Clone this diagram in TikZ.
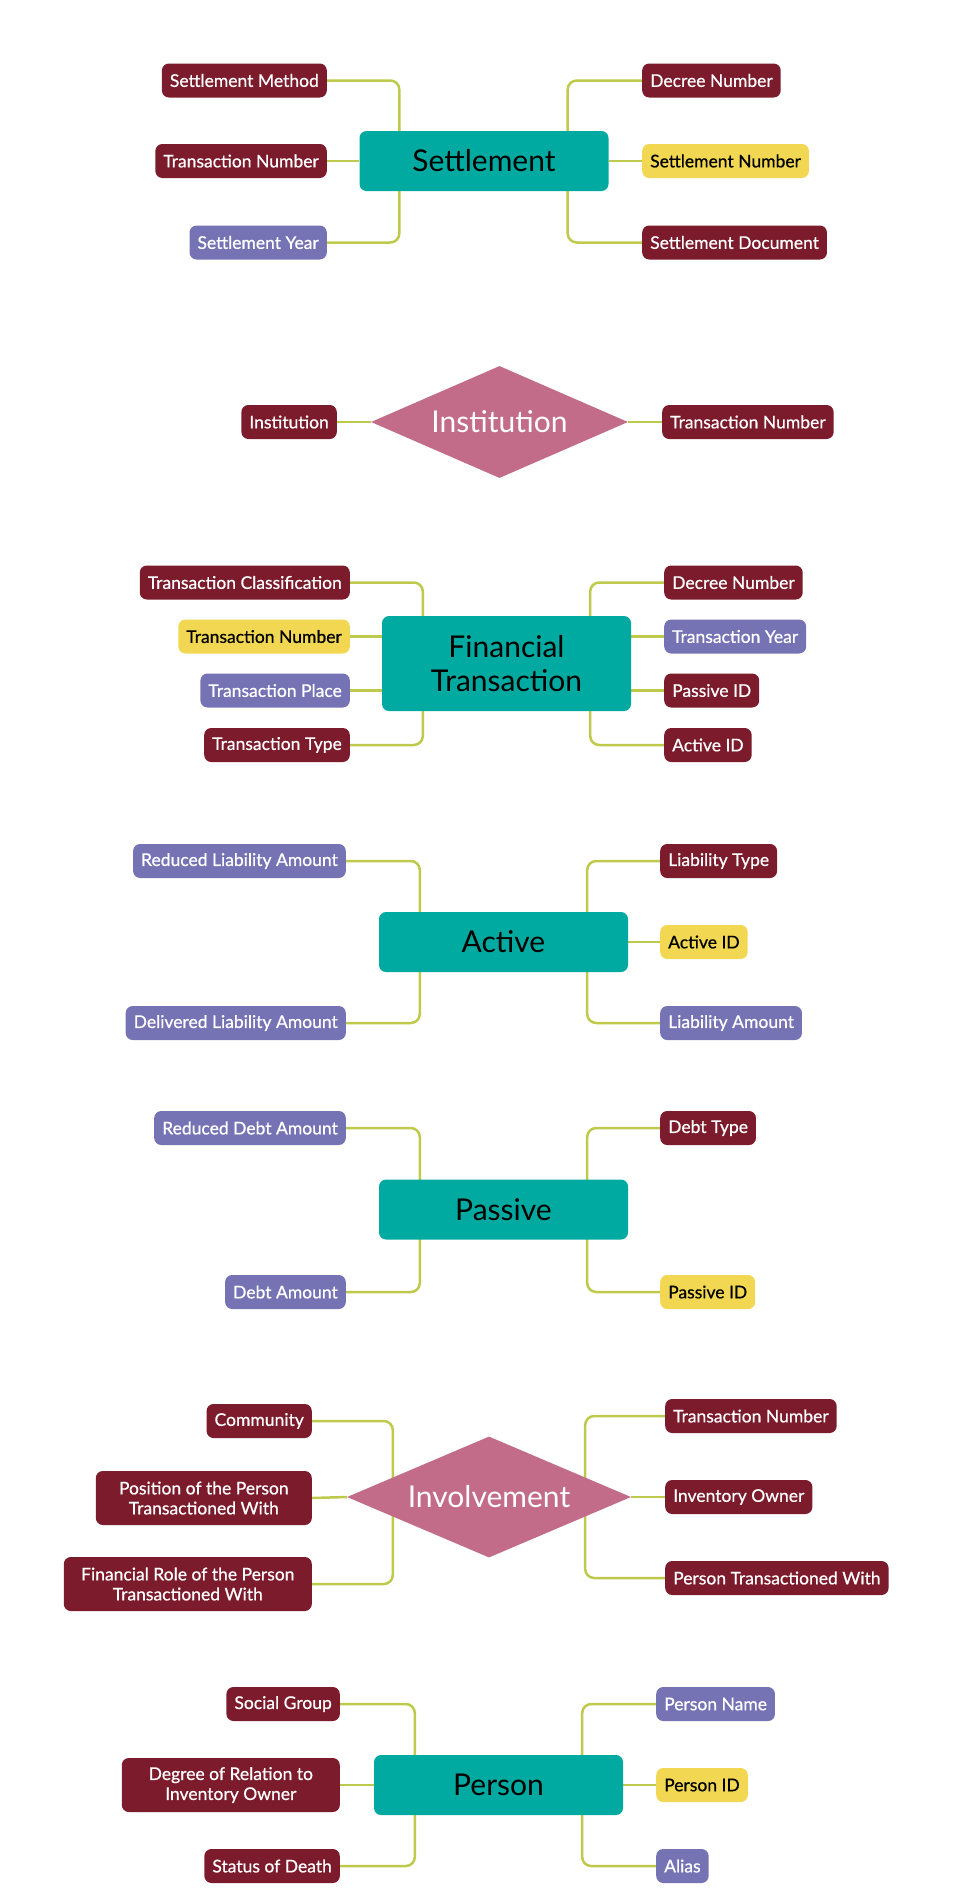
\documentclass[tikz,border=0pt]{standalone}
\usepackage{fontspec}
\setmainfont{Lato}
\newfontfamily\attrfont{Lato}[FakeBold=0.6]
\usetikzlibrary{shapes.geometric, backgrounds}

\definecolor{attrred}{RGB}{123,27,43}
\definecolor{attrviolet}{RGB}{118,115,181}
\definecolor{attrgold}{RGB}{242,216,82}
\definecolor{entityteal}{RGB}{0,170,160}
\definecolor{relpink}{RGB}{194,108,138}
\definecolor{linklime}{RGB}{190,202,75}

\tikzset{
    attr/.style={rounded corners=7pt, minimum height=34pt, inner xsep=8pt, inner ysep=0pt,
        align=center, font=\attrfont\fontsize{17.5}{20}\selectfont},
    redattr/.style={attr, fill=attrred, text=white},
    violetattr/.style={attr, fill=attrviolet, text=white},
    goldattr/.style={attr, fill=attrgold, text=black},
    entity/.style={rounded corners=7pt, fill=entityteal, minimum width=249pt, minimum height=60pt,
        align=center, font=\fontsize{30}{34}\selectfont},
    relation/.style={diamond, fill=relpink, text=white, inner sep=0pt, aspect=2.3,
        font=\fontsize{30}{34}\selectfont},
    link/.style={draw=linklime, line width=2.5pt, rounded corners=9pt}
}

\begin{document}
\begin{tikzpicture}[x=1pt, y=-1pt]
    \useasboundingbox (0,0) rectangle (953,1896);

    % Settlement
    \node[entity] (set) at (484, 161) {Settlement};
    \node[redattr, anchor=east] (setMethod) at (327, 80.5) {Settlement Method};
    \node[redattr, anchor=east] (setTrans) at (327, 161) {Transaction Number};
    \node[violetattr, anchor=east] (setYear) at (327, 242.5) {Settlement Year};
    \node[redattr, anchor=west] (setDecree) at (642, 80.5) {Decree Number};
    \node[goldattr, anchor=west] (setNum) at (642, 161) {Settlement Number};
    \node[redattr, anchor=west] (setDoc) at (642, 242.5) {Settlement Document};

    % Institution
    \node[relation, minimum width=257pt, minimum height=112pt] (inst) at (499.5, 422) {Institution};
    \node[redattr, anchor=east] (instName) at (337, 422) {Institution};
    \node[redattr, anchor=west] (instTrans) at (662, 422) {Transaction Number};

    % Financial Transaction
    \node[entity, minimum height=95pt] (fin) at (506.5, 663.5) {Financial\\Transaction};
    \node[redattr, anchor=east] (finClass) at (350, 582.5) {Transaction Classification};
    \node[goldattr, anchor=east] (finTrans) at (350, 636.5) {Transaction Number};
    \node[violetattr, anchor=east] (finPlace) at (350, 690.5) {Transaction Place};
    \node[redattr, anchor=east] (finType) at (350, 745) {Transaction Type};
    \node[redattr, anchor=west] (finDecree) at (664, 582.5) {Decree Number};
    \node[violetattr, anchor=west] (finYear) at (664, 636.5) {Transaction Year};
    \node[redattr, anchor=west] (finPassive) at (664, 690.5) {Passive ID};
    \node[redattr, anchor=west] (finActive) at (664, 745) {Active ID};

    % Active
    \node[entity] (act) at (503.5, 942) {Active};
    \node[violetattr, anchor=east] (actReduced) at (346, 861) {Reduced Liability Amount};
    \node[violetattr, anchor=east] (actDelivered) at (346, 1023) {Delivered Liability Amount};
    \node[redattr, anchor=west] (actType) at (660, 861) {Liability Type};
    \node[goldattr, anchor=west] (actID) at (660, 942) {Active ID};
    \node[violetattr, anchor=west] (actAmount) at (660, 1023) {Liability Amount};

    % Passive
    \node[entity] (pas) at (503.5, 1209.5) {Passive};
    \node[violetattr, anchor=east] (pasReduced) at (346, 1128) {Reduced Debt Amount};
    \node[violetattr, anchor=east] (pasAmount) at (346, 1292) {Debt Amount};
    \node[redattr, anchor=west] (pasType) at (660, 1128) {Debt Type};
    \node[goldattr, anchor=west] (pasID) at (660, 1292) {Passive ID};

    % Involvement
    \node[relation, minimum width=284pt, minimum height=121pt] (inv) at (489, 1497) {Involvement};
    \node[redattr, anchor=east] (invComm) at (312, 1421) {Community};
    \node[redattr, anchor=east, minimum height=54pt, minimum width=216pt] (invPos) at (312, 1498) {Position of the Person\\Transactioned With};
    \node[redattr, anchor=east, minimum height=54pt, minimum width=248pt] (invRole) at (312, 1584) {Financial Role of the Person\\Transactioned With};
    \node[redattr, anchor=west] (invTrans) at (665, 1416) {Transaction Number};
    \node[redattr, anchor=west] (invOwner) at (665, 1497) {Inventory Owner};
    \node[redattr, anchor=west] (invPerson) at (665, 1578) {Person Transactioned With};

    % Person
    \node[entity] (per) at (498.5, 1785) {Person};
    \node[redattr, anchor=east] (perGroup) at (340, 1704) {Social Group};
    \node[redattr, anchor=east, minimum height=54pt, minimum width=218pt] (perDegree) at (340, 1785) {Degree of Relation to\\Inventory Owner};
    \node[redattr, anchor=east] (perDeath) at (340, 1866) {Status of Death};
    \node[violetattr, anchor=west] (perName) at (656, 1704) {Person Name};
    \node[goldattr, anchor=west] (perID) at (656, 1785) {Person ID};
    \node[violetattr, anchor=west] (perAlias) at (656, 1866) {Alias};

    % connectors, behind the shapes
    \begin{scope}[on background layer]
        \draw[link] (setMethod.east) -| ([xshift=40pt]set.west);
        \draw[link] (setYear.east) -| ([xshift=40pt]set.west);
        \draw[link] (setTrans.east) -- (set.west);
        \draw[link] (setDecree.west) -| ([xshift=-41pt]set.east);
        \draw[link] (setDoc.west) -| ([xshift=-41pt]set.east);
        \draw[link] (setNum.west) -- (set.east);

        \draw[link] (instName.east) -- (inst.west);
        \draw[link] (instTrans.west) -- (inst.east);

        \draw[link] (finClass.east) -| ([xshift=41pt]fin.west);
        \draw[link] (finType.east) -| ([xshift=41pt]fin.west);
        \draw[link] (finTrans.east) -- (finTrans.east -| fin.west);
        \draw[link] (finPlace.east) -- (finPlace.east -| fin.west);
        \draw[link] (finDecree.west) -| ([xshift=-41pt]fin.east);
        \draw[link] (finActive.west) -| ([xshift=-41pt]fin.east);
        \draw[link] (finYear.west) -- (finYear.west -| fin.east);
        \draw[link] (finPassive.west) -- (finPassive.west -| fin.east);

        \draw[link] (actReduced.east) -| ([xshift=41pt]act.west);
        \draw[link] (actDelivered.east) -| ([xshift=41pt]act.west);
        \draw[link] (actType.west) -| ([xshift=-41pt]act.east);
        \draw[link] (actAmount.west) -| ([xshift=-41pt]act.east);
        \draw[link] (actID.west) -- (act.east);

        \draw[link] (pasReduced.east) -| ([xshift=41pt]pas.west);
        \draw[link] (pasAmount.east) -| ([xshift=41pt]pas.west);
        \draw[link] (pasType.west) -| ([xshift=-41pt]pas.east);
        \draw[link] (pasID.west) -| ([xshift=-41pt]pas.east);

        \draw[link] (invComm.east) -| ([xshift=46pt]inv.west);
        \draw[link] (invRole.east) -| ([xshift=46pt]inv.west);
        \draw[link] (invPos.east) -- (inv.west);
        \draw[link] (invTrans.west) -| ([xshift=-46pt]inv.east);
        \draw[link] (invPerson.west) -| ([xshift=-46pt]inv.east);
        \draw[link] (invOwner.west) -- (inv.east);

        \draw[link] (perGroup.east) -| ([xshift=41pt]per.west);
        \draw[link] (perDeath.east) -| ([xshift=41pt]per.west);
        \draw[link] (perDegree.east) -- (per.west);
        \draw[link] (perName.west) -| ([xshift=-41pt]per.east);
        \draw[link] (perAlias.west) -| ([xshift=-41pt]per.east);
        \draw[link] (perID.west) -- (per.east);
    \end{scope}
\end{tikzpicture}
\end{document}
